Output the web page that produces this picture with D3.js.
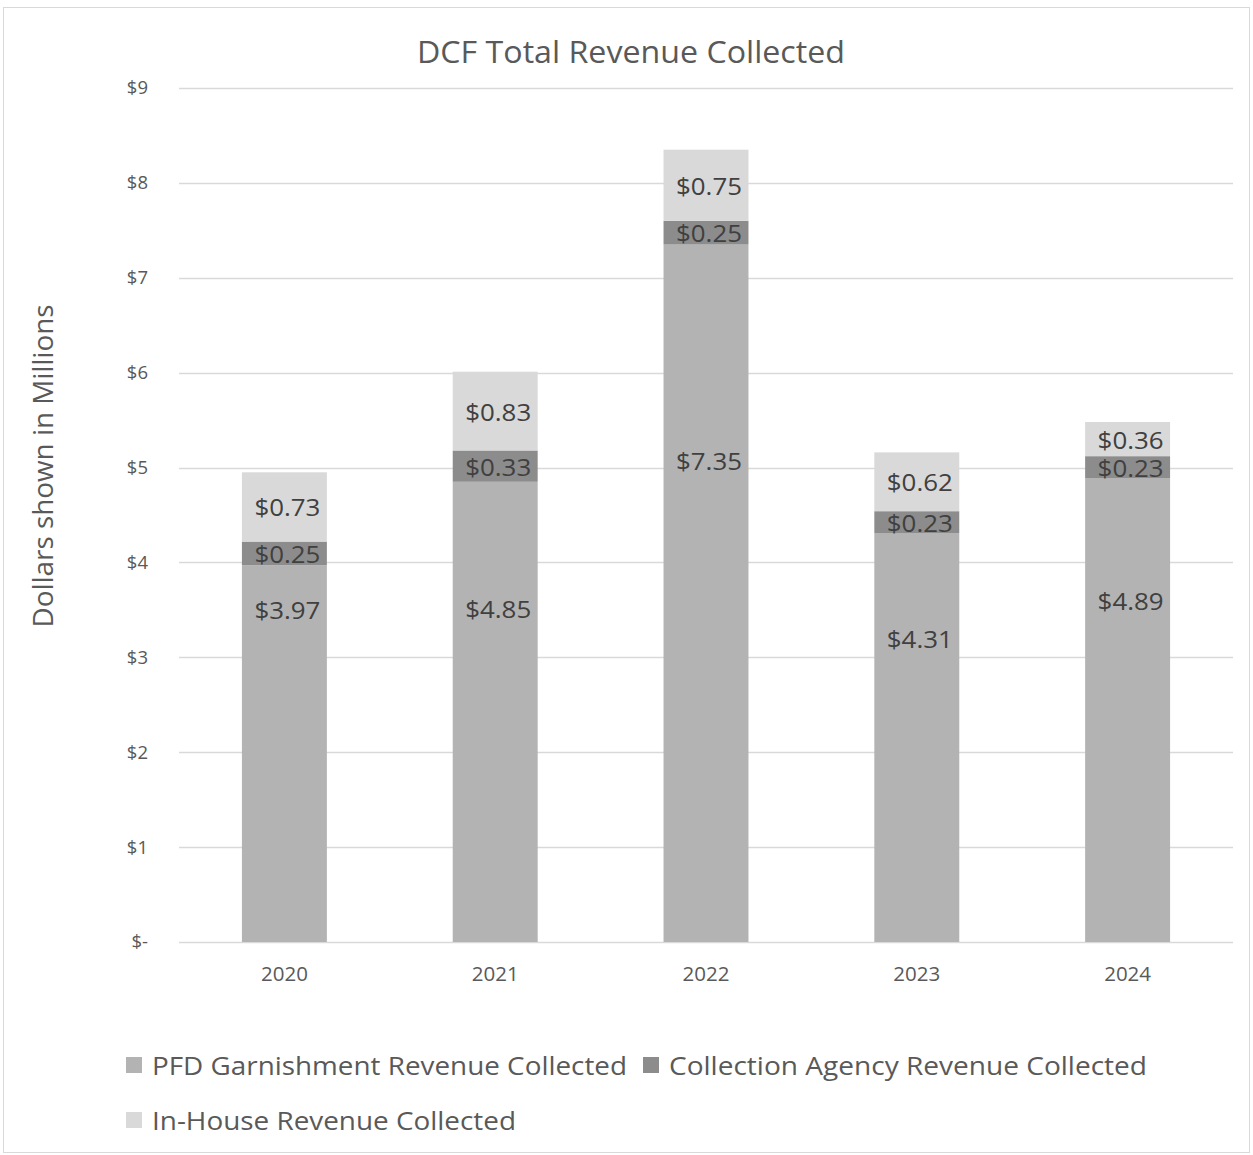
<!DOCTYPE html>
<html><head><meta charset="utf-8">
<script src="https://cdn.jsdelivr.net/npm/d3@7"></script>
<style>body{margin:0;background:#fff}svg{display:block}text{font-family:"Open Sans",sans-serif}</style>
</head><body>
<svg id="c" width="1253" height="1155"></svg>
<script>
const years = ["2020","2021","2022","2023","2024"];
const pfd = [3.97, 4.85, 7.35, 4.31, 4.89];
const agency = [0.25, 0.33, 0.25, 0.23, 0.23];
const inHouse = [0.73, 0.83, 0.75, 0.62, 0.36];
const seriesNames = ["PFD Garnishment Revenue Collected","Collection Agency Revenue Collected","In-House Revenue Collected"];
const yTicks = [0,1,2,3,4,5,6,7,8,9];
const yTickLabels = ["$-","$1","$2","$3","$4","$5","$6","$7","$8","$9"];
// layout: where the (manually placed) PFD labels sit, in data units
const pfdLabelAt = [3.5, 3.51, 5.07, 3.2, 3.6];

const colors = ["#b3b3b3","#8c8c8c","#d9d9d9"];
const svg = d3.select("#c");
svg.append("rect").attr("x",3.5).attr("y",7.5).attr("width",1246).attr("height",1145)
  .attr("fill","#fff").attr("stroke","#d9d9d9");

const m = {l:179, r:1233, t:88, b:942};
const x = d3.scaleBand().domain(years).range([m.l,m.r]).paddingInner(0.597).paddingOuter(0.2985);
const y = d3.scaleLinear().domain([0,9]).range([m.b,m.t]);

svg.append("text").attr("x",631).attr("y",51).attr("text-anchor","middle").attr("dominant-baseline","central")
  .attr("font-size",31).attr("textLength",428).attr("lengthAdjust","spacingAndGlyphs")
  .attr("fill","#595959").text("DCF Total Revenue Collected");

// grid
svg.append("g").selectAll("line").data(yTicks).join("line")
  .attr("x1",m.l).attr("x2",m.r).attr("y1",d=>Math.round(y(d))+0.5).attr("y2",d=>Math.round(y(d))+0.5)
  .attr("stroke","#d9d9d9").attr("stroke-width",1.5);

const yAxis = d3.axisLeft(y).tickValues(yTicks).tickFormat((d,i)=>yTickLabels[i]).tickSize(0).tickPadding(31);
const gy = svg.append("g").attr("transform",`translate(${m.l},0)`).call(yAxis);
gy.select(".domain").remove();
gy.selectAll("text").attr("font-size",18.5).attr("fill","#595959").attr("font-family","'Open Sans',sans-serif");

const xAxis = d3.axisBottom(x).tickSize(0).tickPadding(24);
const gx = svg.append("g").attr("transform",`translate(0,${m.b})`).call(xAxis);
gx.select(".domain").remove();
gx.selectAll("text").attr("font-size",20.5).attr("fill","#595959").attr("font-family","'Open Sans',sans-serif");

svg.append("text").attr("transform",`translate(43,466) rotate(-90)`).attr("text-anchor","middle")
  .attr("dominant-baseline","central").attr("font-size",26.5).attr("textLength",323).attr("lengthAdjust","spacingAndGlyphs")
  .attr("fill","#595959").text("Dollars shown in Millions");

const table = years.map((yr,i)=>({year:yr, pfd:pfd[i], agency:agency[i], inHouse:inHouse[i]}));
const stack = d3.stack().keys(["pfd","agency","inHouse"])(table);

const g = svg.append("g");
stack.forEach((s,si)=>{
  g.append("g").selectAll("rect").data(s).join("rect")
    .attr("x",d=>x(d.data.year)).attr("width",x.bandwidth())
    .attr("y",d=>y(d[1])).attr("height",d=>y(d[0])-y(d[1]))
    .attr("fill",colors[si]);
});
stack.forEach((s,si)=>{
  g.append("g").selectAll("text").data(s).join("text")
    .attr("x",d=>x(d.data.year)+x.bandwidth()/2+3)
    .attr("y",(d,i)=> si===0 ? y(pfdLabelAt[i]) : y((d[0]+d[1])/2))
    .attr("text-anchor","middle").attr("dominant-baseline","central")
    .attr("font-size",24).attr("textLength",66).attr("lengthAdjust","spacingAndGlyphs")
    .attr("fill","#404040")
    .text(d=>"$"+(d[1]-d[0]).toFixed(2));
});

// legend
const leg = [{x:126,y:1065},{x:643,y:1065},{x:126,y:1120}];
const legW = [475, 478, 364];
seriesNames.forEach((n,i)=>{
  const gg = svg.append("g").attr("transform",`translate(${leg[i].x},${leg[i].y})`);
  gg.append("rect").attr("x",0).attr("y",-8).attr("width",16).attr("height",16).attr("fill",colors[i]);
  gg.append("text").attr("x",26).attr("y",0).attr("dominant-baseline","central")
    .attr("font-size",26).attr("textLength",legW[i]).attr("lengthAdjust","spacingAndGlyphs")
    .attr("fill","#595959").text(n);
});
</script>
</body></html>
